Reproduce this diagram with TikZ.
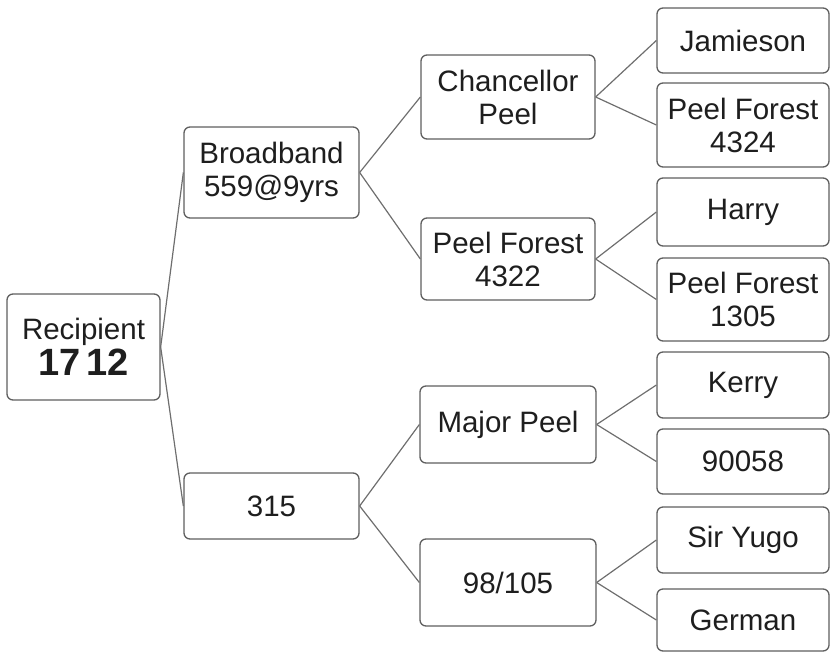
\documentclass[tikz,border=0pt]{standalone}
\usepackage{fontspec}
\setmainfont{Liberation Sans}
\definecolor{boxline}{RGB}{95,95,95}
\definecolor{conn}{RGB}{110,110,110}
\definecolor{txt}{RGB}{30,30,30}
\begin{document}
\begin{tikzpicture}[x=1pt,y=-1pt,
  box/.style={draw=boxline,line width=1.3pt,rounded corners=6pt,fill=white,
    inner sep=0pt,align=center,text=txt,
    font=\fontsize{29.5}{33}\selectfont},
  link/.style={draw=conn,line width=1.2pt}]
\useasboundingbox (0,0) rectangle (832,653);
\node[box,minimum width=153pt,minimum height=106pt] (rec) at (83.5,347)
  {Recipient\\[3pt]{\fontsize{38}{38}\selectfont\bfseries 17\,12}};
\node[box,minimum width=175pt,minimum height=91pt] (bb) at (271.5,172.5) {Broadband\\559@9yrs};
\node[box,minimum width=175pt,minimum height=66pt] (n315) at (271.5,506) {315};
\node[box,minimum width=174pt,minimum height=84pt] (cp) at (508,97) {Chancellor\\Peel};
\node[box,minimum width=174pt,minimum height=82pt] (pf4322) at (508,259) {Peel Forest\\4322};
\node[box,minimum width=176pt,minimum height=77pt] (mp) at (508,424.5) {Major Peel};
\node[box,minimum width=176pt,minimum height=87pt] (n98) at (508,582.5) {98/105};
\node[box,minimum width=172pt,minimum height=65pt] (jam) at (743,40.5) {Jamieson};
\node[box,minimum width=172pt,minimum height=84pt] (pf4324) at (743,125) {Peel Forest\\4324};
\node[box,minimum width=172pt,minimum height=68pt] (harry) at (743,212) {Harry};
\node[box,minimum width=172pt,minimum height=83pt] (pf1305) at (743,299.5) {Peel Forest\\1305};
\node[box,minimum width=172pt,minimum height=66pt] (kerry) at (743,385) {Kerry};
\node[box,minimum width=172pt,minimum height=65pt] (n90058) at (743,461.5) {90058};
\node[box,minimum width=172pt,minimum height=66pt] (sir) at (743,540) {Sir Yugo};
\node[box,minimum width=172pt,minimum height=62pt] (german) at (743,620) {German};
\path[link] (rec.east) -- (bb.west);
\path[link] (rec.east) -- (n315.west);
\path[link] (bb.east) -- (cp.west);
\path[link] (bb.east) -- (pf4322.west);
\path[link] (n315.east) -- (mp.west);
\path[link] (n315.east) -- (n98.west);
\path[link] (cp.east) -- (jam.west);
\path[link] (cp.east) -- (pf4324.west);
\path[link] (pf4322.east) -- (harry.west);
\path[link] (pf4322.east) -- (pf1305.west);
\path[link] (mp.east) -- (kerry.west);
\path[link] (mp.east) -- (n90058.west);
\path[link] (n98.east) -- (sir.west);
\path[link] (n98.east) -- (german.west);
\end{tikzpicture}
\end{document}
